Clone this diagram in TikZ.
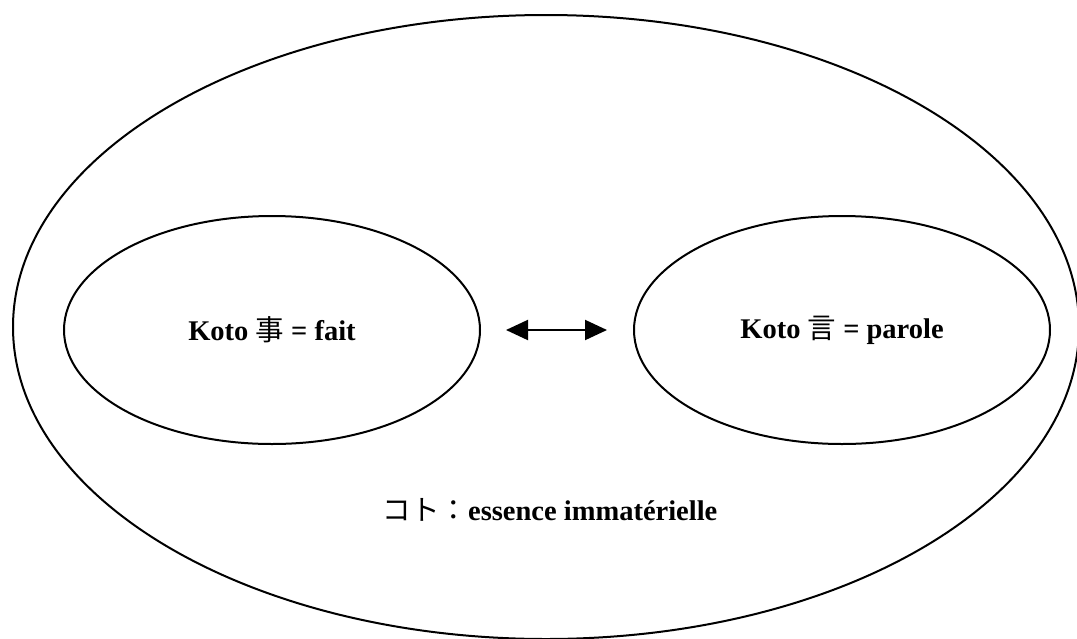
\documentclass[tikz,border=0pt]{standalone}
\usepackage{fontspec}
\setmainfont{Liberation Serif}
\newfontfamily\jp{Noto Sans CJK JP}
\usepackage{tikz}
\usetikzlibrary{positioning}
\usetikzlibrary{shapes.geometric}
\usetikzlibrary{arrows.meta}
\tikzset{kotobox/.style={draw,ellipse,minimum width=416pt,minimum height=228pt}}
\newcommand{\kanji}[1]{{\mdseries\jp #1}}

\begin{document}
\begin{tikzpicture}[x=1pt,y=-1pt,node distance=152pt,line width=2pt,
    every node/.style={font=\fontsize{28.5}{34}\selectfont\bfseries}]
  \useasboundingbox (0,0) rectangle (1077,638);
  \node[draw,ellipse,minimum width=1066pt,minimum height=624pt](koto) at (546,327) {};
  \node[kotobox](fait) at (272,330) {Koto \kanji{事} = fait};
  \node[right= of fait,kotobox](parole) {Koto \kanji{言} = parole};
  \node(essence) at (550,510) {\kanji{コト：}essence immatérielle};
  \draw[{Triangle[length=22pt,width=20pt]}-{Triangle[length=22pt,width=20pt]},shorten <=25pt,shorten >=26pt] (fait)--(parole);
\end{tikzpicture}
\end{document}
